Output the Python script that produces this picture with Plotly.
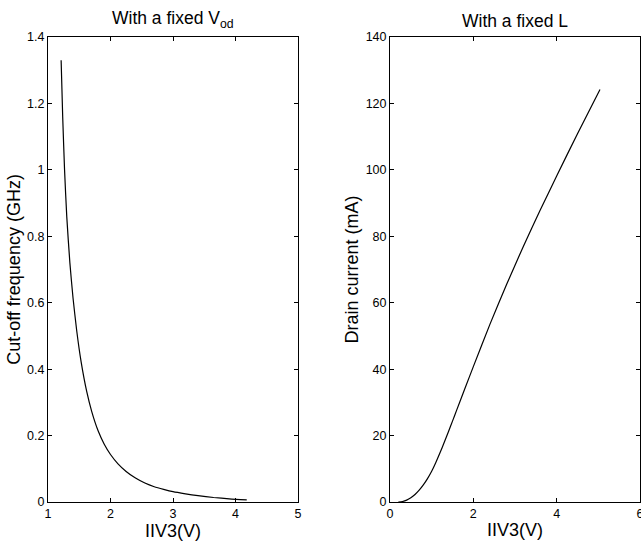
import plotly.graph_objects as go

# Left panel: cut-off frequency vs IIV3 (fixed Vod)
fc_v = [1.21, 1.235, 1.265, 1.30, 1.35, 1.40, 1.46, 1.53, 1.62, 1.70, 1.80, 1.90,
        2.00, 2.12, 2.25, 2.40, 2.55, 2.70, 2.85, 3.00, 3.20, 3.40, 3.65, 3.90, 4.18]
fc_ghz = [1.33, 1.16, 1.00, 0.86, 0.72, 0.615, 0.515, 0.422, 0.332, 0.272, 0.215, 0.174,
          0.143, 0.115, 0.092, 0.072, 0.057, 0.046, 0.038, 0.031, 0.0245, 0.019, 0.0135,
          0.0095, 0.0065]

# Right panel: drain current vs IIV3 (fixed L)
id_v = [0.20, 0.30, 0.40, 0.50, 0.60, 0.70, 0.80, 0.90, 1.00, 1.10, 1.20, 1.30,
        1.40, 1.50, 1.60, 1.80, 2.00, 2.40, 2.80, 3.20, 3.60, 4.00, 4.50, 5.04]
id_ma = [0.0, 0.15, 0.55, 1.25, 2.25, 3.55, 5.15, 7.05, 9.25, 11.9, 14.8, 17.9,
         21.1, 24.35, 27.65, 34.25, 40.75, 53.55, 65.55, 76.95, 87.75, 98.15, 110.9, 124.2]

left_title = "With a fixed V<sub>od</sub>"
right_title = "With a fixed L"
x_title = "IIV3(V)"
left_ytitle = "Cut-off frequency (GHz)"
right_ytitle = "Drain current (mA)"

FONT = "Liberation Sans, Arial, Helvetica, sans-serif"

fig = go.Figure()
line = dict(color="black", width=1.2, shape="spline", smoothing=0.6)
fig.add_trace(go.Scatter(x=fc_v, y=fc_ghz, mode="lines", line=line,
                         xaxis="x", yaxis="y", hoverinfo="x+y"))
fig.add_trace(go.Scatter(x=id_v, y=id_ma, mode="lines", line=line,
                         xaxis="x2", yaxis="y2", hoverinfo="x+y"))

ax = dict(showline=True, linecolor="black", linewidth=1, mirror="ticks",
          ticks="inside", ticklen=4, tickcolor="black", tickwidth=1,
          showgrid=False, zeroline=False, automargin=False,
          tickfont=dict(size=12.5, color="black", family=FONT))
xt = dict(text=x_title, font=dict(size=18, color="black", family=FONT), standoff=3)

fig.update_layout(
    width=641, height=545,
    margin=dict(l=48, r=1, t=37, b=43),
    paper_bgcolor="white", plot_bgcolor="white",
    showlegend=False,
    font=dict(family=FONT, color="black"),
    xaxis=dict(ax, domain=[0, 0.4223], range=[1, 5], dtick=1, anchor="y", title=xt),
    yaxis=dict(ax, range=[0, 1.4], dtick=0.2, anchor="x",
               title=dict(text=left_ytitle, font=dict(size=18, color="black", family=FONT), standoff=1)),
    xaxis2=dict(ax, domain=[0.5777, 1], range=[0, 6], dtick=2, anchor="y2", title=xt,
                ticklabeloverflow="allow"),
    yaxis2=dict(ax, range=[0, 140], dtick=20, anchor="x2",
                title=dict(text=right_ytitle, font=dict(size=18, color="black", family=FONT), standoff=2)),
    annotations=[
        dict(text=left_title, xref="x domain", yref="y domain", x=0.5, y=1,
             xanchor="center", yanchor="bottom", yshift=4, showarrow=False,
             font=dict(size=17.5, color="black", family=FONT)),
        dict(text=right_title, xref="x2 domain", yref="y2 domain", x=0.5, y=1,
             xanchor="center", yanchor="bottom", yshift=4, showarrow=False,
             font=dict(size=17.5, color="black", family=FONT)),
    ],
)

fig.write_html("out.html", config={"displayModeBar": False},
               post_script="document.body.style.margin='0';document.body.style.padding='0';")
